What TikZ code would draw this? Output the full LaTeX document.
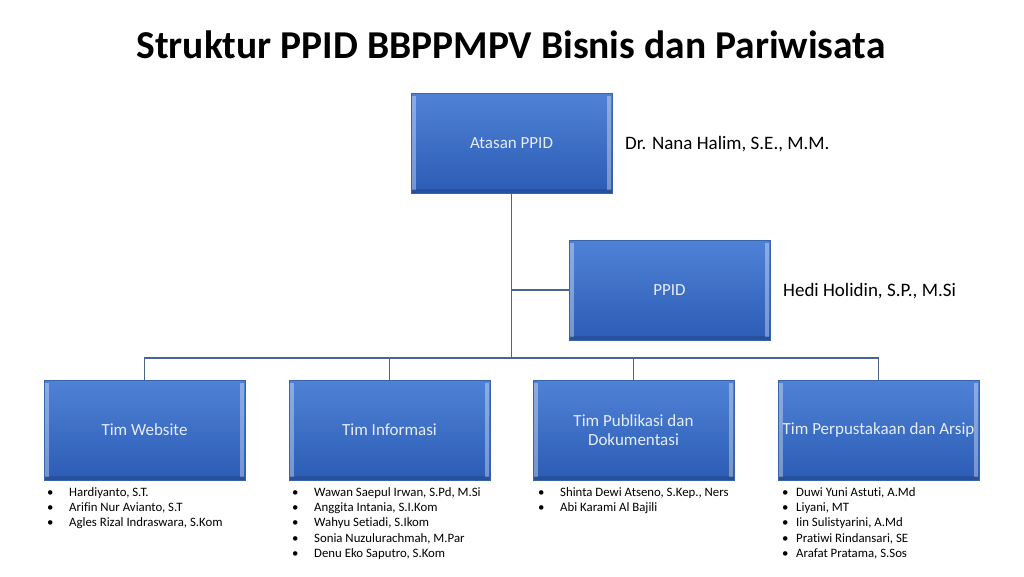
\documentclass[tikz,border=0pt]{standalone}
\usepackage{fontspec}
\setmainfont{Carlito}[Ligatures={NoCommon}]
\begin{document}
\begin{tikzpicture}[x=1pt,y=-1pt,
  orgbox/.style={minimum width=201pt, minimum height=100pt, inner sep=2pt,
    top color=boxtop, bottom color=boxbot, draw=boxedge, line width=0.4pt,
    text=boxtext, font=\fontsize{17}{19}\selectfont, align=center,
    path picture={
      \fill[white,opacity=0.35] ([xshift=1pt,yshift=-3pt]path picture bounding box.north west) rectangle ([xshift=5pt,yshift=3pt]path picture bounding box.south west);
      \fill[white,opacity=0.35] ([xshift=-5pt,yshift=-3pt]path picture bounding box.north east) rectangle ([xshift=-1pt,yshift=3pt]path picture bounding box.south east);
      \fill[black,opacity=0.12] ([yshift=4pt]path picture bounding box.south west) rectangle (path picture bounding box.south east);
    }},
  conn/.style={draw=connc, line width=1.8pt},
  personlbl/.style={font=\fontsize{19}{22}\selectfont, anchor=west, inner sep=0pt},
  itemlist/.style={font=\fontsize{12.8}{15.4}\selectfont, anchor=north west, align=left, inner sep=0pt}
]
\definecolor{boxtop}{HTML}{4F82D6}
\definecolor{boxbot}{HTML}{2C5CB5}
\definecolor{boxedge}{HTML}{3A64A8}
\definecolor{boxtext}{HTML}{E4ECF8}
\definecolor{connc}{HTML}{4A6690}
\useasboundingbox (0,0) rectangle (1024,576);
\fill[white] (0,0) rectangle (1024,576);

\node[font=\bfseries\fontsize{39.5}{44}\selectfont, inner sep=0pt] (title) at (511,45) {Struktur PPID BBPPMPV Bisnis dan Pariwisata};

\node[orgbox] (atasan) at (511.5,143) {Atasan PPID};
\node[orgbox] (ppid) at (669.5,290) {PPID};
\node[orgbox] (web) at (144.5,430) {Tim Website};
\node[orgbox] (info) at (389.5,430) {Tim Informasi};
\node[orgbox] (pub) at (633.5,430) {Tim Publikasi dan\\Dokumentasi};
\node[orgbox] (pus) at (878.5,430) {Tim Perpustakaan dan Arsip};

\node[personlbl] (nana) at (625,144) {Dr. Nana Halim, S.E., M.M.};
\node[personlbl] (hedi) at (783,291) {Hedi Holidin, S.P., M.Si};

\coordinate (hub) at (atasan.south |- 0,358);
\draw[conn] (atasan.south) -- (hub);
\draw[conn] (atasan.south |- ppid.west) -- (ppid.west);
\draw[conn] (web.north) -- (web.north |- hub) -- (pus.north |- hub) -- (pus.north);
\draw[conn] (info.north) -- (info.north |- hub);
\draw[conn] (pub.north) -- (pub.north |- hub);

\newcommand{\itm}[1]{\makebox[22pt][l]{•}#1}
\node[itemlist] (lweb) at (47,487) {\itm{Hardiyanto, S.T.}\\\itm{Arifin Nur Avianto, S.T}\\\itm{Agles Rizal Indraswara, S.Kom}};
\node[itemlist] (linfo) at (292,487) {\itm{Wawan Saepul Irwan, S.Pd, M.Si}\\\itm{Anggita Intania, S.I.Kom}\\\itm{Wahyu Setiadi, S.Ikom}\\\itm{Sonia Nuzulurachmah, M.Par}\\\itm{Denu Eko Saputro, S.Kom}};
\node[itemlist] (lpub) at (538,487) {\itm{Shinta Dewi Atseno, S.Kep., Ners}\\\itm{Abi Karami Al Bajili}};
\renewcommand{\itm}[1]{\makebox[14pt][l]{•}#1}
\node[itemlist] (lpus) at (782,487) {\itm{Duwi Yuni Astuti, A.Md}\\\itm{Liyani, MT}\\\itm{Iin Sulistyarini, A.Md}\\\itm{Pratiwi Rindansari, SE}\\\itm{Arafat Pratama, S.Sos}};
\end{tikzpicture}
\end{document}
